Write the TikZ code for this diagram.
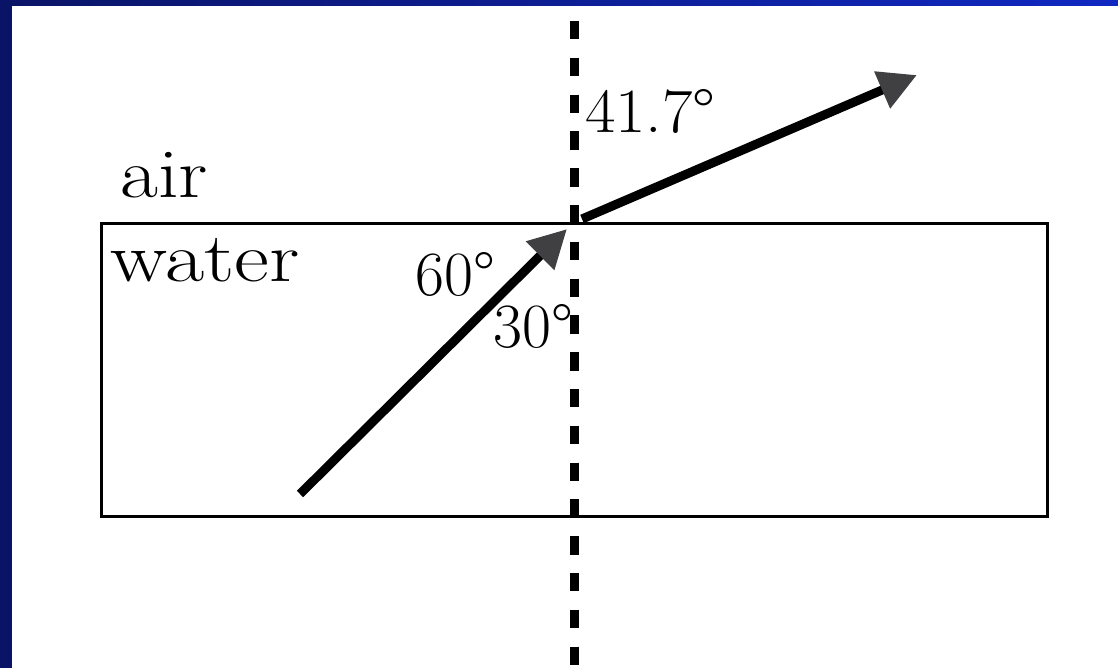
\documentclass[tikz,border=0pt]{standalone}
\usetikzlibrary{arrows.meta}
\definecolor{navyL}{RGB}{10,20,102}
\definecolor{navyR}{RGB}{16,40,194}
\definecolor{headgrey}{RGB}{64,64,66}
\tikzset{
  lbl/.style={anchor=base west, inner sep=0pt, font=\fontsize{63}{75}\selectfont},
  word/.style={anchor=base west, inner sep=0pt, font=\fontsize{70}{84}\selectfont},
  ray/.style={line width=9pt, -{Triangle[length=38pt,width=38pt,color=headgrey]}},
  normal/.style={line width=9pt, dash pattern=on 18.4pt off 18.4pt},
}
\begin{document}
\begin{tikzpicture}[x=1pt,y=-1pt]
\useasboundingbox (0,0) rectangle (1118,668);
\fill[white] (0,0) rectangle (1118,668);
\shade[left color=navyL, right color=navyR] (0,0) rectangle (1118,6);
\fill[navyL] (0,0) rectangle (12,668);
% water box
\node[draw, line width=3pt, minimum width=946pt, minimum height=292pt, inner sep=0pt, anchor=north west] (box) at (100,222.5) {};
% normal line
\coordinate (ntop) at (574.5,21);
\coordinate (nbot) at (574.5,668);
\draw[normal] (ntop) -- (nbot);
% rays
\coordinate (inS) at (300,494);
\coordinate (inE) at (567,229);
\draw[ray] (inS) -- (inE);
\coordinate (outS) at (582,219);
\coordinate (outE) at (917,75);
\draw[ray] (outS) -- (outE);
% labels
\node[word] (air) at (120,198) {\scalebox{1.18}[1]{air}};
\node[word] (water) at (110,281) {\scalebox{1.22}[1]{water}};
\node[lbl] (a60) at (415,295) {60°};
\node[lbl] (a30) at (493,347) {30°};
\node[lbl] (a41) at (585,133) {\scalebox{1.05}[1]{41.7°}};
\end{tikzpicture}
\end{document}
